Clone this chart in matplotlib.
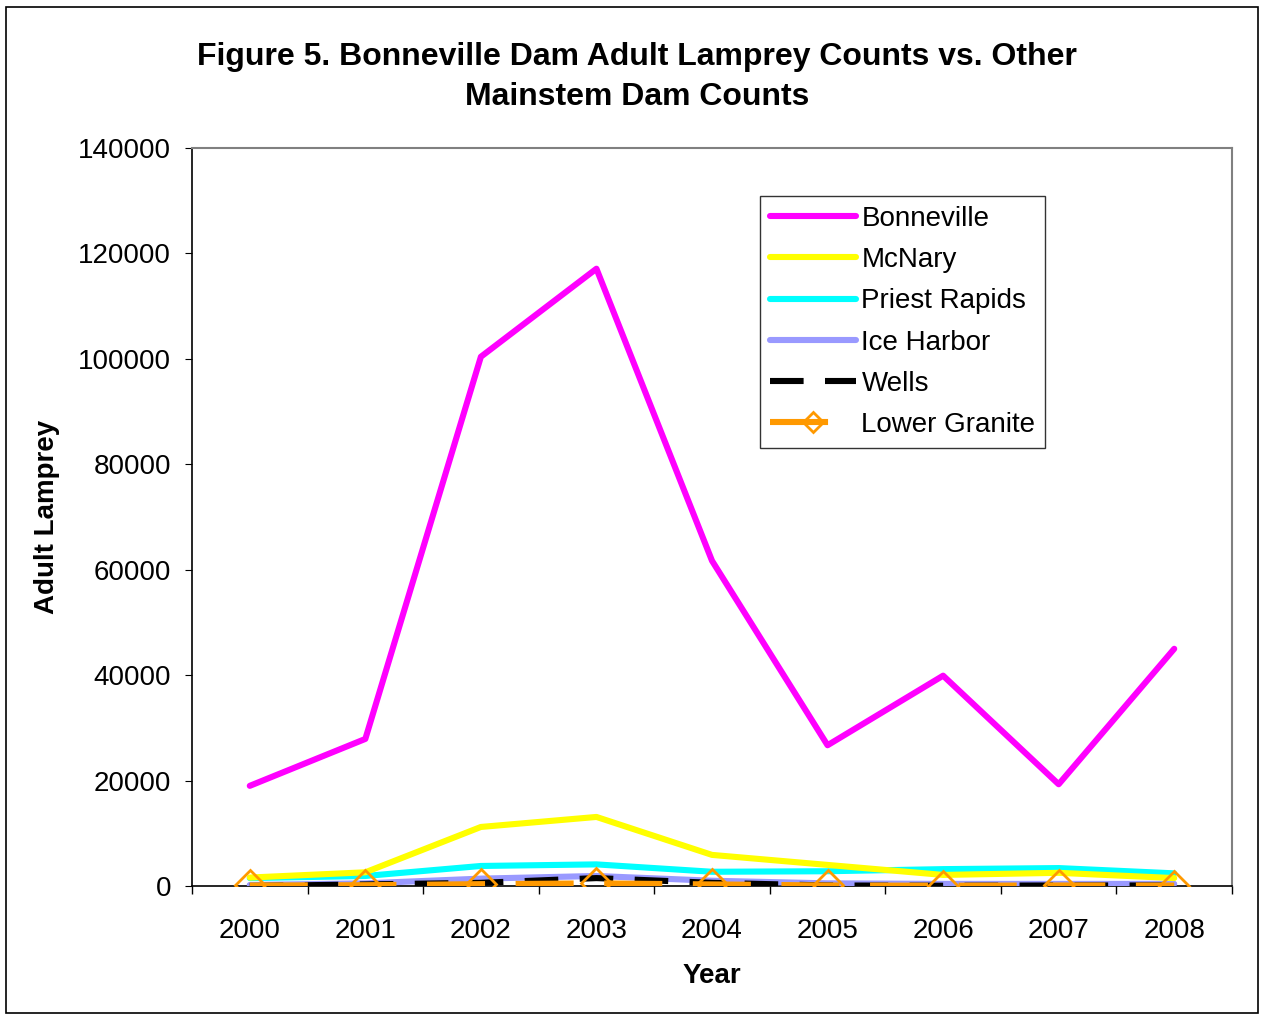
import matplotlib
matplotlib.use("Agg")
import matplotlib.pyplot as plt
from matplotlib.patches import Rectangle

plt.rcParams['font.family'] = ['Liberation Sans', 'DejaVu Sans']

years = ['2000', '2001', '2002', '2003', '2004', '2005', '2006', '2007', '2008']
bonneville = [19000, 27900, 100400, 117100, 61700, 26700, 39900, 19300, 45000]
mcnary = [1600, 2600, 11200, 13100, 5900, 4000, 2100, 2500, 1500]
priest_rapids = [1500, 1900, 3800, 4100, 2700, 2800, 3200, 3400, 2400]
ice_harbor = [200, 500, 1400, 1900, 1000, 500, 400, 400, 400]
wells = [0, 300, 600, 1500, 600, 100, 50, 100, 100]
lower_granite = [100, 150, 350, 500, 300, 100, 50, 100, 80]

fig = plt.figure(figsize=(12.65, 10.15), dpi=100)
fig.patches.append(Rectangle((6/1265, 2/1015), 1252/1265, 1006/1015, transform=fig.transFigure,
                             fill=False, edgecolor='black', linewidth=1.2))
ax = fig.add_axes([192/1265, 1 - 886/1015, (1232-192)/1265, (886-148)/1015])

x = list(range(len(years)))
lw = 4.4
ax.plot(x, bonneville, color='#FF00FF', lw=lw, label='Bonneville', solid_capstyle='round', zorder=6)
ax.plot(x, mcnary, color='#FFFF00', lw=lw, label='McNary', solid_capstyle='round', zorder=5)
ax.plot(x, priest_rapids, color='#00FFFF', lw=lw, label='Priest Rapids', solid_capstyle='round', zorder=4)
ax.plot(x, ice_harbor, color='#9999FF', lw=lw, label='Ice Harbor', solid_capstyle='round', zorder=3)
ax.plot(x, wells, color='black', lw=lw, dashes=(5.5, 3.5), label='Wells', zorder=3.5)
ax.plot(x, lower_granite, color='#FF9900', lw=lw, dashes=(9.5, 5.0), label='Lower Granite',
        marker='D', markersize=15, markerfacecolor='none', markeredgecolor='#FF9900',
        markeredgewidth=2, zorder=7)

ax.set_xlim(-0.5, 8.5)
ax.set_ylim(0, 140000)
ax.set_yticks(range(0, 140001, 20000))
ax.set_xticks(x)
ax.set_xticklabels(years)
ax.set_xticks([i - 0.5 for i in range(10)], minor=True)
ax.tick_params(axis='x', which='major', length=0, pad=23, labelsize=20)
ax.tick_params(axis='x', which='minor', length=6, direction='out', width=1)
ax.tick_params(axis='y', length=5, direction='out', labelsize=20, pad=10)

for s in ['top', 'right']:
    ax.spines[s].set_color('#808080')
    ax.spines[s].set_linewidth(1.5)
for s in ['left', 'bottom']:
    ax.spines[s].set_color('black')
    ax.spines[s].set_linewidth(1.2)

fig.text(712/1265, 1 - 976/1015, 'Year', fontsize=20, fontweight='bold', ha='center', va='center')
fig.text(47/1265, 1 - 517/1015, 'Adult Lamprey', fontsize=20, fontweight='bold', ha='center', va='center',
         rotation=90)

fig.text(637/1265, 1 - 77/1015, 'Figure 5. Bonneville Dam Adult Lamprey Counts vs. Other\nMainstem Dam Counts',
         ha='center', va='center', fontsize=23, fontweight='bold', linespacing=1.4)

leg = ax.legend(loc='upper left', bbox_to_anchor=((760-192)/1040, (886-196)/738), frameon=True,
                fancybox=False, edgecolor='black', fontsize=20, handlelength=3.1, labelspacing=0.55,
                borderpad=0.35, handletextpad=0.2, borderaxespad=0, markerscale=0.7)
leg.get_frame().set_linewidth(1.0)

fig.savefig('out.png', dpi=100)
